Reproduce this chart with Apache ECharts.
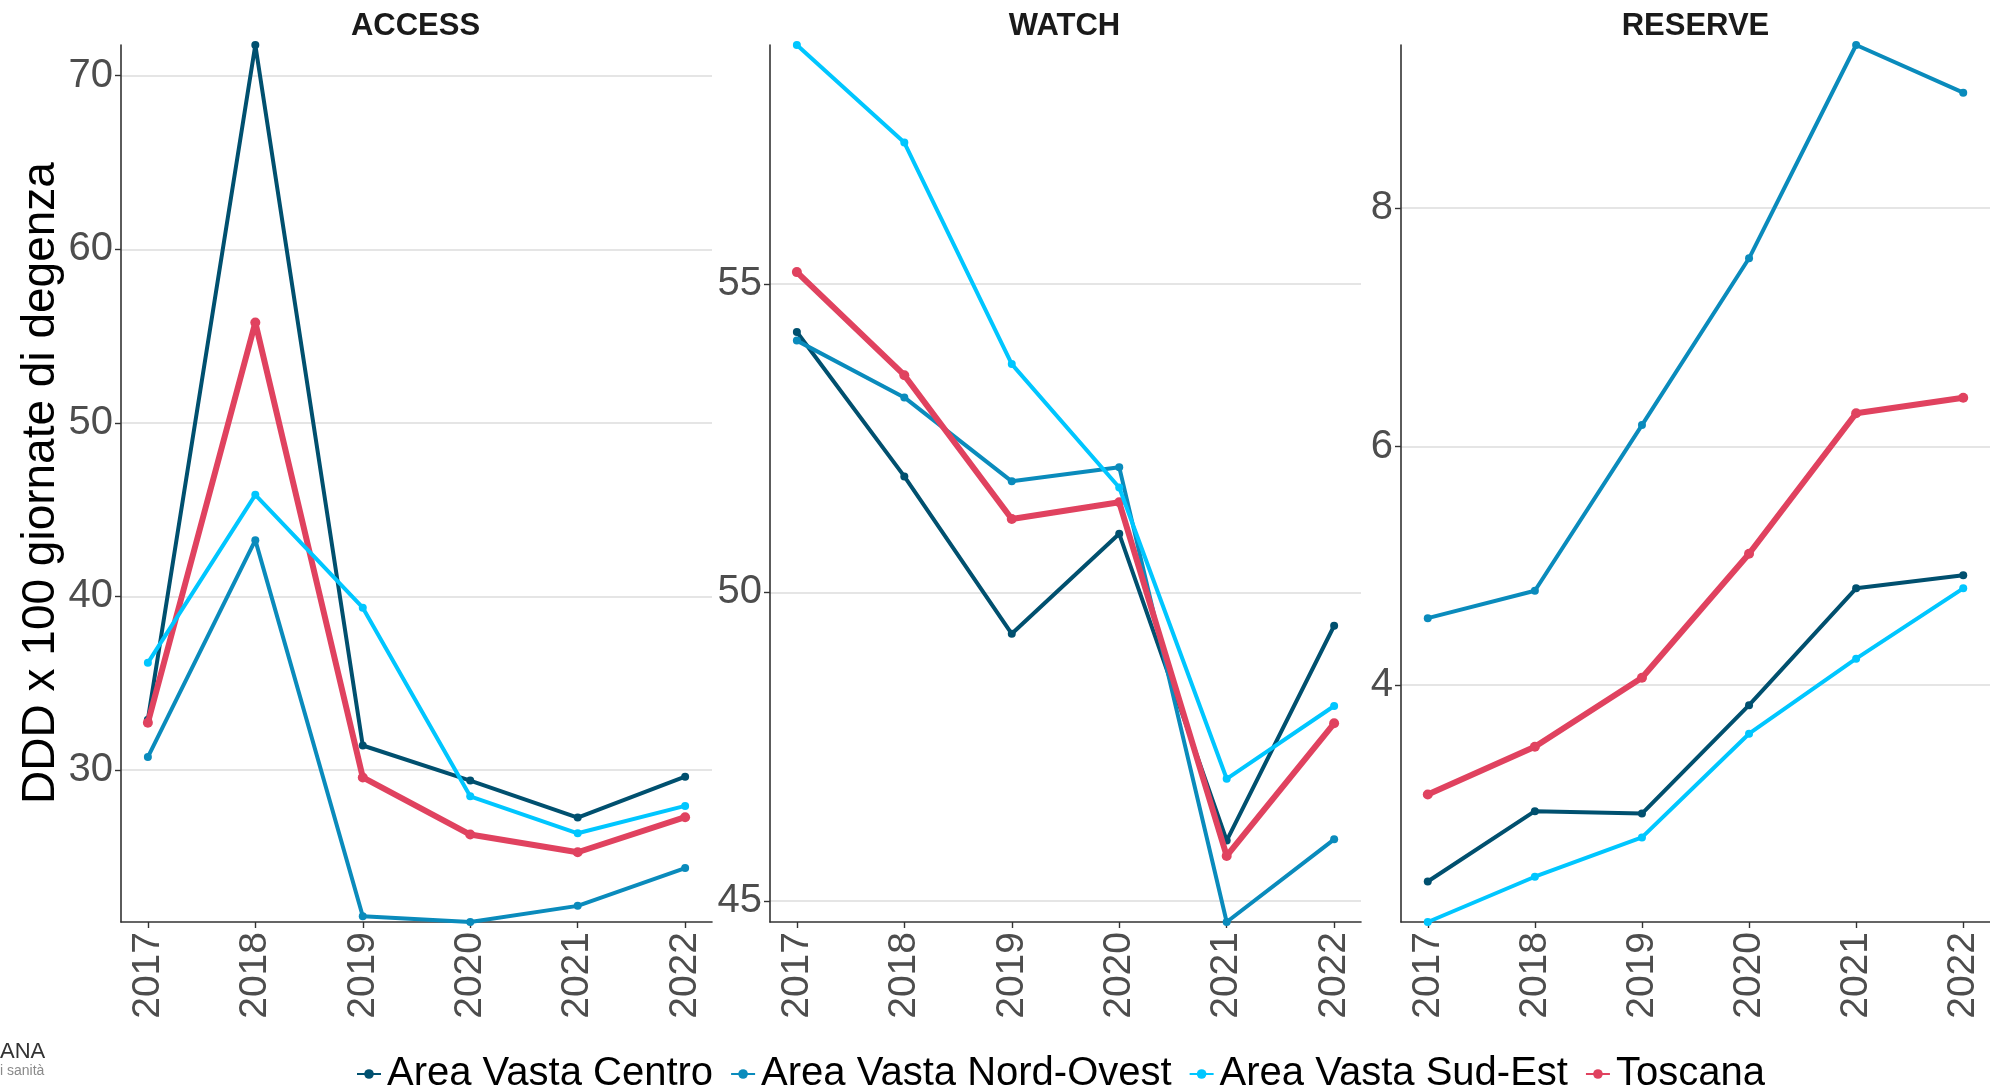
<!DOCTYPE html>
<html>
<head>
<meta charset="utf-8">
<script src="https://cdn.jsdelivr.net/npm/echarts@6/dist/echarts.min.js"></script>
<style>
html,body{margin:0;padding:0;background:#fff;}
#chart{width:1990px;height:1089px;}
</style>
</head>
<body>
<div id="chart"></div>
<script>
// ---- data ----
var years = [2017, 2018, 2019, 2020, 2021, 2022];
var seriesNames = ['Area Vasta Centro', 'Area Vasta Nord-Ovest', 'Area Vasta Sud-Est', 'Toscana'];
var panelTitles = ['ACCESS', 'WATCH', 'RESERVE'];
var yTitle = 'DDD x 100 giornate di degenza';

var accessCentro    = [32.9, 71.77, 31.41, 29.39, 27.26, 29.61];
var accessNordOvest = [30.74, 43.24, 21.57, 21.24, 22.17, 24.35];
var accessSudEst    = [36.17, 45.85, 39.35, 28.48, 26.35, 27.93];
var accessToscana   = [32.72, 55.78, 29.57, 26.28, 25.26, 27.28];

var watchCentro    = [54.22, 51.88, 49.33, 50.95, 45.98, 49.46];
var watchNordOvest = [54.08, 53.16, 51.80, 52.03, 44.66, 46.00];
var watchSudEst    = [58.87, 57.29, 53.70, 51.70, 46.98, 48.16];
var watchToscana   = [55.19, 53.52, 51.19, 51.46, 45.73, 47.88];

var reserveCentro    = [2.35, 2.94, 2.92, 3.83, 4.81, 4.92];
var reserveNordOvest = [4.56, 4.79, 6.18, 7.58, 9.37, 8.97];
var reserveSudEst    = [2.01, 2.39, 2.72, 3.59, 4.22, 4.81];
var reserveToscana   = [3.08, 3.48, 4.06, 5.10, 6.28, 6.41];

var accessTicks  = [30, 40, 50, 60, 70];
var watchTicks   = [45, 50, 55];
var reserveTicks = [4, 6, 8];

// ---- styling ----
var FONT = '"Liberation Sans", Arial, Helvetica, sans-serif';
var colors = ['#00506F', '#0A8BBC', '#00C6FF', '#E0425F'];
var lineWidths = [4, 4, 4, 6];
var symbolSizes = [8, 8, 8, 10];
var zOrder = [2, 3, 5, 4];

var panelData = [
  [accessCentro, accessNordOvest, accessSudEst, accessToscana],
  [watchCentro, watchNordOvest, watchSudEst, watchToscana],
  [reserveCentro, reserveNordOvest, reserveSudEst, reserveToscana]
];
var panelTicks = [accessTicks, watchTicks, reserveTicks];
var gridLefts = [121, 770, 1401];
var gridWidth = 591;
var gridTop = 45;
var gridHeight = 877;

var grids = [], xAxes = [], yAxes = [], series = [], graphics = [];

for (var p = 0; p < 3; p++) {
  grids.push({left: gridLefts[p], top: gridTop, width: gridWidth, height: gridHeight, containLabel: false});
  xAxes.push({
    type: 'value', gridIndex: p, min: 2016.75, max: 2022.25,
    axisLine: {show: true, lineStyle: {color: '#333333', width: 1.6}},
    axisTick: {show: true, length: 6, lineStyle: {color: '#333333', width: 1.4}, customValues: years},
    axisLabel: {show: true, rotate: 90, margin: 10, fontSize: 39, color: '#4D4D4D', fontFamily: FONT,
                customValues: years, formatter: function (v) { return String(Math.round(v)); }},
    splitLine: {show: false}
  });
  yAxes.push({
    type: 'value', gridIndex: p, min: 'dataMin', max: 'dataMax', scale: true,
    axisLine: {show: true, lineStyle: {color: '#333333', width: 1.6}},
    axisTick: {show: true, length: 6, lineStyle: {color: '#333333', width: 1.4}, customValues: panelTicks[p]},
    axisLabel: {show: true, margin: 8, fontSize: 40, color: '#4D4D4D', fontFamily: FONT,
                customValues: panelTicks[p]},
    splitLine: {show: true, showMinLine: true, showMaxLine: true, lineStyle: {color: '#DCDCDC', width: 1.5}}
  });
  for (var s = 0; s < 4; s++) {
    var vals = panelData[p][s];
    var pts = [];
    for (var i = 0; i < years.length; i++) pts.push([years[i], vals[i]]);
    series.push({
      name: seriesNames[s], type: 'line', xAxisIndex: p, yAxisIndex: p,
      data: pts, symbol: 'circle', symbolSize: symbolSizes[s], showSymbol: true,
      z: zOrder[s], animation: false, clip: false,
      lineStyle: {color: colors[s], width: lineWidths[s]},
      itemStyle: {color: colors[s]}
    });
  }
  graphics.push({
    type: 'text', x: gridLefts[p] + gridWidth / 2 - 1, y: 26,
    style: {text: panelTitles[p], font: 'bold 31px ' + FONT, fill: '#1A1A1A', textAlign: 'center', textVerticalAlign: 'middle'}
  });
}

graphics.push({
  type: 'text', x: 41, y: 483, rotation: Math.PI / 2,
  style: {text: yTitle, font: '46px ' + FONT, fill: '#000000', textAlign: 'center', textVerticalAlign: 'middle'}
});
graphics.push({
  type: 'text', x: 0, y: 1052,
  style: {text: 'ANA', font: '22px ' + FONT, fill: '#333333', textAlign: 'left', textVerticalAlign: 'middle'}
});
graphics.push({
  type: 'text', x: 0, y: 1071,
  style: {text: 'i sanità', font: '14px ' + FONT, fill: '#8A8A8A', textAlign: 'left', textVerticalAlign: 'middle'}
});

var chart = echarts.init(document.getElementById('chart'), null, {renderer: 'canvas'});
chart.setOption({
  backgroundColor: '#ffffff',
  animation: false,
  color: colors,
  grid: grids,
  xAxis: xAxes,
  yAxis: yAxes,
  series: series,
  graphic: graphics,
  legend: {
    show: true, left: 356, top: 1054, orient: 'horizontal',
    itemWidth: 24, itemHeight: 12, itemGap: 17, padding: 0,
    data: seriesNames,
    textStyle: {fontSize: 40, color: '#000000', fontFamily: FONT, padding: [0, 0, 0, 1]}
  }
});
</script>
</body>
</html>
